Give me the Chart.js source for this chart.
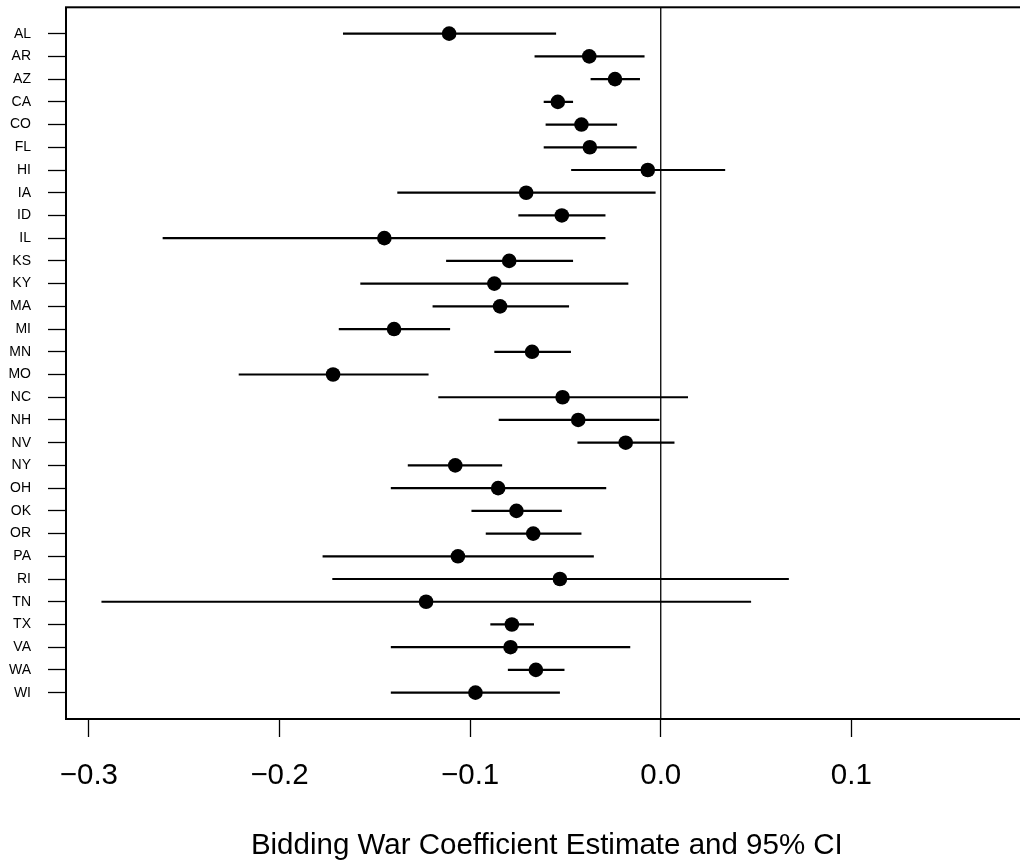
<!DOCTYPE html>
<html lang="en">
<meta charset="utf-8" />
<title>Bidding War Coefficient by State</title>
<script src="https://cdn.jsdelivr.net/npm/chart.js@4.4.1"></script>
<style>
*{box-sizing:border-box}
html,body{margin:0;background:#fff;overflow:hidden}
/* the plot box runs a little past the right edge of the window, as in the reference */
#wrap{width:1035px;height:865px;position:relative}
</style>
<body>
<div id="wrap"><canvas id="chart"></canvas></div>

<script>
/* data */
const states = ['AL','AR','AZ','CA','CO','FL','HI','IA','ID','IL','KS','KY','MA','MI','MN',
                'MO','NC','NH','NV','NY','OH','OK','OR','PA','RI','TN','TX','VA','WA','WI'];
const estimate = [-0.111,-0.0375,-0.024,-0.054,-0.0416,-0.0372,-0.0068,-0.0706,-0.0519,-0.145,
                  -0.0795,-0.0873,-0.0843,-0.1399,-0.0675,-0.1719,-0.0515,-0.0433,-0.0184,-0.1078,
                  -0.0853,-0.0757,-0.0669,-0.1064,-0.0529,-0.1231,-0.0781,-0.0788,-0.0655,-0.0972];
const ciLow    = [-0.1667,-0.0662,-0.0368,-0.0614,-0.0604,-0.0614,-0.047,-0.1382,-0.0747,-0.2613,
                  -0.1126,-0.1576,-0.1197,-0.1689,-0.0873,-0.2214,-0.1167,-0.085,-0.0437,-0.1327,
                  -0.1416,-0.0993,-0.0918,-0.1774,-0.1723,-0.2934,-0.0894,-0.1416,-0.0802,-0.1416];
const ciHigh   = [-0.0549,-0.0085,-0.0109,-0.046,-0.0229,-0.0126,0.0338,-0.0027,-0.029,-0.029,
                  -0.046,-0.017,-0.0481,-0.1105,-0.0471,-0.1218,0.0143,-0.0007,0.0072,-0.0832,
                  -0.0286,-0.0519,-0.0416,-0.0351,0.0672,0.0474,-0.0665,-0.016,-0.0505,-0.0529];
const xTicks      = [-0.3,-0.2,-0.1,0.0,0.1];
const xTickLabels = ['\u22120.3','\u22120.2','\u22120.1','0.0','0.1'];
const xTitle = 'Bidding War Coefficient Estimate and 95% CI';

const FONT = '"Liberation Sans", Arial, Helvetica, sans-serif';
Chart.defaults.font.family = FONT;
Chart.defaults.color = '#000';

/* dots first so they are drawn on top */
const datasets = [{
  data: states.map((s,i) => ({x: estimate[i], y: i+1})),
  pointRadius: 7.3, pointBackgroundColor: '#000', pointBorderWidth: 0,
  showLine: false, order: 0
}];
states.forEach((s,i) => {
  datasets.push({
    data: [{x: ciLow[i], y: i+1}, {x: ciHigh[i], y: i+1}],
    showLine: true, borderColor: '#000', borderWidth: 2.2,
    pointRadius: 0, order: 1
  });
});

/* box round the plot + vertical line at zero */
const frame = {
  id: 'frame',
  beforeDatasetsDraw(c){
    const a = c.chartArea, x0 = c.scales.x.getPixelForValue(0), g = c.ctx;
    g.save();
    g.strokeStyle = '#000'; g.lineWidth = 1.3;
    g.beginPath(); g.moveTo(x0, a.top); g.lineTo(x0, a.bottom); g.stroke();
    g.restore();
  },
  afterDraw(c){
    const a = c.chartArea, g = c.ctx;
    g.save();
    g.strokeStyle = '#000'; g.lineWidth = 2;
    g.strokeRect(a.left, a.top, a.right - a.left, a.bottom - a.top);
    g.restore();
  }
};

new Chart(document.getElementById('chart'), {
  type: 'scatter',
  data: { datasets },
  plugins: [frame],
  options: {
    responsive: true, maintainAspectRatio: false, animation: false,
    layout: { padding: { left: 0, right: 0, top: 7, bottom: 0 } },
    plugins: { legend: {display:false}, tooltip: {enabled:false} },
    scales: {
      x: {
        type: 'linear', min: -0.312, max: 0.1925,
        afterBuildTicks: s => { s.ticks = xTicks.map(v => ({value: v})); },
        afterFit: s => { s.height = 146; s.paddingLeft = 0; s.paddingRight = 0; },
        ticks: { autoSkip: false, maxRotation: 0, padding: 21,
                 font: { size: 29.5 }, callback: (v, i) => xTickLabels[i] },
        grid: { drawOnChartArea: false, drawTicks: true, tickLength: 18,
                color: '#000', tickColor: '#000', tickWidth: 1.3 },
        border: { display: false },
        title: { display: true, text: xTitle, font: { size: 29.5 },
                 padding: { top: 0, bottom: 1 } }
      },
      y: {
        type: 'linear', reverse: true, min: -0.16, max: 31.16,
        afterBuildTicks: s => { s.ticks = states.map((st,i) => ({value: i+1})); },
        afterFit: s => { s.width = 66; s.paddingTop = 0; s.paddingBottom = 0; },
        ticks: { autoSkip: false, padding: 17, font: { size: 14 },
                 callback: v => states[v-1] },
        grid: { drawOnChartArea: false, drawTicks: true, tickLength: 18,
                color: '#000', tickColor: '#000', tickWidth: 1.3 },
        border: { display: false }
      }
    }
  }
});
</script>
</body>
</html>
